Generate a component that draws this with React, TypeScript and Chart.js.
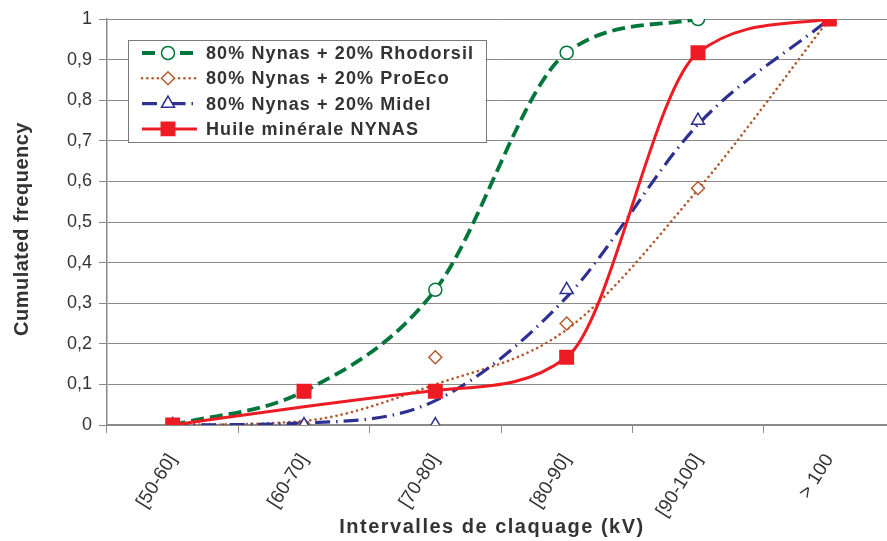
import React, { useEffect, useRef } from "react";
import { Chart, registerables } from "chart.js";

Chart.register(...registerables);

const categories = ["[50-60]", "[60-70]", "[70-80]", "[80-90]", "[90-100]", "> 100"];
const seriesLabels = [
  "80% Nynas + 20% Rhodorsil",
  "80% Nynas + 20% ProEco",
  "80% Nynas + 20% Midel",
  "Huile minérale NYNAS",
];
const xTitle = "Intervalles de claquage (kV)";
const yTitle = "Cumulated frequency";

// markers
const rhodorsilPoints = [0, 0.083, 0.333, 0.917, 1, null];
const proEcoPoints = [0, 0, 0.167, 0.25, 0.583, 1];
const midelPoints = [0, 0, 0, 0.333, 0.75, 1];
const huilePoints = [0, 0.083, 0.083, 0.167, 0.917, 1];
// smoothed curves
const rhodorsilCurve = [0, 0.083, 0.333, 0.917, 1, null];
const proEcoCurve = [0, 0.01, 0.1, 0.235, 0.58, 1];
const midelCurve = [0, 0.005, 0.06, 0.315, 0.74, 1];
const huileCurve = [0, 0.045, 0.085, 0.167, 0.917, 1];

const FONT = '"Liberation Sans", Arial, Helvetica, sans-serif';
const TEXT = "#333333";
const GRID = "#8a8a8a";

const styles = [
  { color: "#00763B", width: 3.8, dash: [13, 6], cap: "butt", point: "circle", radius: 6.5, fill: "#ffffff" },
  { color: "#B3592E", width: 2.6, dash: [0.1, 5.2], cap: "round", point: "rectRot", radius: 6.5, fill: "#ffffff" },
  { color: "#2E3192", width: 3.2, dash: [15, 6, 1.5, 6], cap: "butt", point: "triangle", radius: 7.5, fill: "#ffffff" },
  { color: "#ED1C24", width: 3, dash: [], cap: "butt", point: "rect", radius: 9.5, fill: "#ED1C24" },
];

const pointSets = [rhodorsilPoints, proEcoPoints, midelPoints, huilePoints];
const curveSets = [rhodorsilCurve, proEcoCurve, midelCurve, huileCurve];

function drawMarker(ctx: CanvasRenderingContext2D, style: string, r: number, x: number, y: number) {
  ctx.beginPath();
  if (style === "circle") {
    ctx.arc(x, y, r, 0, Math.PI * 2);
  } else if (style === "rectRot") {
    ctx.moveTo(x, y - r);
    ctx.lineTo(x + r, y);
    ctx.lineTo(x, y + r);
    ctx.lineTo(x - r, y);
    ctx.closePath();
  } else if (style === "triangle") {
    ctx.moveTo(x, y - r);
    ctx.lineTo(x + r * 0.87, y + r * 0.5);
    ctx.lineTo(x - r * 0.87, y + r * 0.5);
    ctx.closePath();
  } else {
    const s = r * Math.SQRT1_2;
    ctx.rect(x - s, y - s, 2 * s, 2 * s);
  }
  ctx.fill();
  ctx.stroke();
}

const legendPlugin = {
  id: "insideLegend",
  afterDatasetsDraw(chart: any) {
    const ctx = chart.ctx;
    const box = { x: 128.5, y: 40.5, w: 358, h: 102 };
    ctx.save();
    ctx.fillStyle = "#ffffff";
    ctx.strokeStyle = "#7a7a7a";
    ctx.lineWidth = 1;
    ctx.fillRect(box.x, box.y, box.w, box.h);
    ctx.strokeRect(box.x, box.y, box.w, box.h);
    seriesLabels.forEach((label, i) => {
      const s = styles[i];
      const y = 53 + i * 25.3;
      ctx.save();
      ctx.strokeStyle = s.color;
      ctx.lineWidth = s.width;
      ctx.lineCap = s.cap;
      ctx.setLineDash(s.dash);
      ctx.beginPath();
      ctx.moveTo(142, y);
      ctx.lineTo(197, y);
      ctx.stroke();
      ctx.restore();
      ctx.save();
      ctx.fillStyle = s.fill;
      ctx.strokeStyle = s.color;
      ctx.lineWidth = 1.5;
      drawMarker(ctx, s.point, s.radius, 168, y);
      ctx.restore();
      ctx.save();
      ctx.fillStyle = TEXT;
      ctx.font = `bold 18px ${FONT}`;
      (ctx as any).letterSpacing = "1.1px";
      ctx.textBaseline = "middle";
      ctx.textAlign = "left";
      ctx.fillText(label, 206, y + 1);
      ctx.restore();
    });
    ctx.restore();
  },
};

const titlePlugin = {
  id: "axisTitles",
  afterDraw(chart: any) {
    const ctx = chart.ctx;
    ctx.save();
    ctx.fillStyle = TEXT;
    ctx.font = `bold 20px ${FONT}`;
    (ctx as any).letterSpacing = "1.5px";
    ctx.textAlign = "center";
    ctx.textBaseline = "middle";
    ctx.fillText(xTitle, 492, 527);
    ctx.restore();
    ctx.save();
    ctx.fillStyle = TEXT;
    ctx.translate(22, 229);
    ctx.rotate(-Math.PI / 2);
    ctx.font = `bold 20px ${FONT}`;
    (ctx as any).letterSpacing = "0.5px";
    ctx.textAlign = "center";
    ctx.textBaseline = "middle";
    ctx.fillText(yTitle, 0, 0);
    ctx.restore();
  },
};

export default function App() {
  const ref = useRef<HTMLCanvasElement>(null);
  useEffect(() => {
    if (!ref.current) return;
    const datasets: any[] = [];
    curveSets.forEach((data, i) => {
      const s = styles[i];
      datasets.push({
        label: seriesLabels[i],
        data,
        borderColor: s.color,
        borderWidth: s.width,
        borderDash: s.dash,
        borderCapStyle: s.cap,
        pointRadius: 0,
        cubicInterpolationMode: "monotone",
        fill: false,
        order: 10 - i,
      });
    });
    pointSets.forEach((data, i) => {
      const s = styles[i];
      datasets.push({
        label: seriesLabels[i] + " points",
        data,
        showLine: false,
        pointStyle: s.point,
        pointRadius: s.radius,
        pointBackgroundColor: s.fill,
        pointBorderColor: s.color,
        pointBorderWidth: 1.5,
        order: 4 - i,
      });
    });
    const chart = new Chart(ref.current, {
      type: "line",
      data: { labels: categories, datasets },
      options: {
        animation: false,
        responsive: false,
        devicePixelRatio: 1,
        layout: { padding: { top: 19, right: 6.5, left: 0, bottom: 0 } },
        plugins: { legend: { display: false }, tooltip: { enabled: false }, title: { display: false } },
        scales: {
          x: {
            type: "category",
            offset: true,
            grid: { offset: true, drawOnChartArea: false, drawTicks: true, tickLength: 8, color: GRID },
            border: { color: GRID, width: 1.5 },
            ticks: { font: { size: 19, family: FONT }, color: TEXT, minRotation: 58, maxRotation: 58, padding: 17, autoSkip: false },
            afterFit: (s: any) => { s.height = 116; },
          },
          y: {
            min: 0,
            max: 1,
            grid: { color: GRID, tickLength: 8, drawTicks: true },
            border: { color: GRID, width: 1.5 },
            ticks: {
              stepSize: 0.1,
              font: { size: 18, family: FONT },
              color: TEXT,
              padding: 7,
              callback: (v: any) => String(Math.round(Number(v) * 10) / 10).replace(".", ","),
            },
            afterFit: (s: any) => { s.width = 107; },
          },
        },
      } as any,
      plugins: [legendPlugin, titlePlugin],
    });
    return () => chart.destroy();
  }, []);
  return (
    <div style={{ position: "fixed", left: 0, top: 0, width: 887, height: 541, overflow: "hidden", background: "#fff" }}>
      <canvas ref={ref} width={906} height={541} style={{ display: "block", width: 906, height: 541 }} />
    </div>
  );
}
